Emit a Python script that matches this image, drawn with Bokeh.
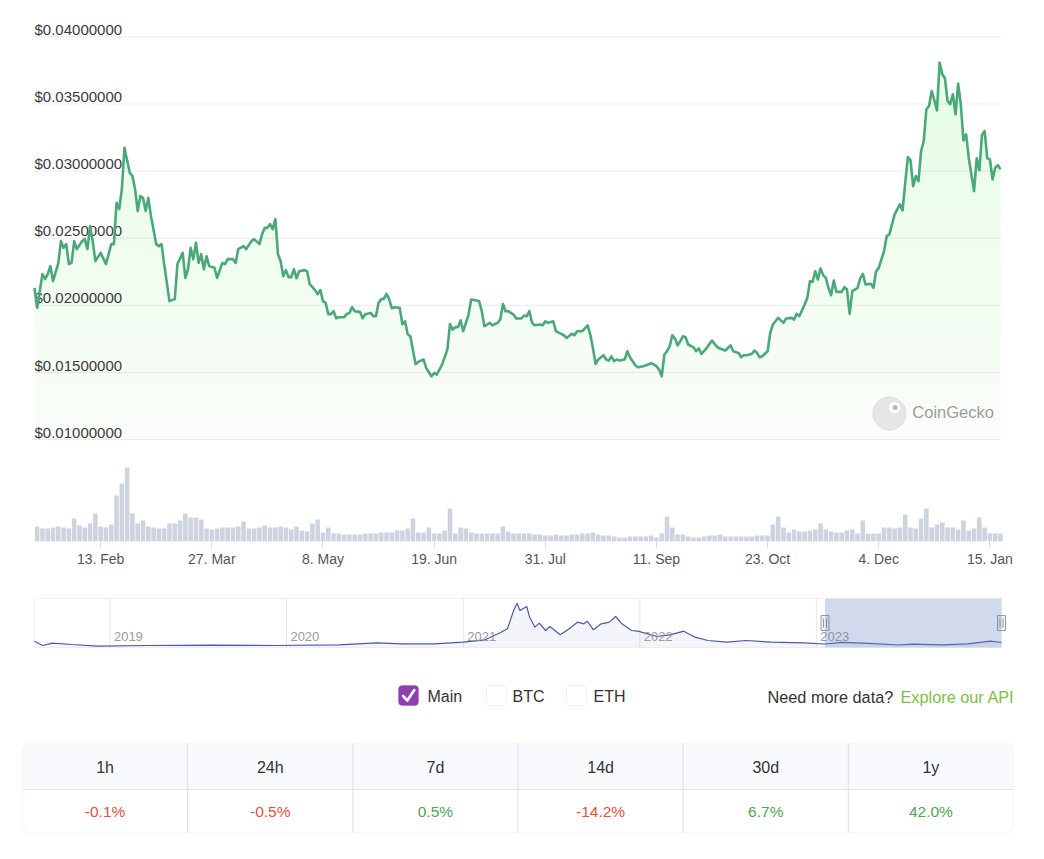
import numpy as np
import pandas as pd
from bokeh.plotting import figure
from bokeh.layouts import column
from bokeh.models import Range1d, BoxAnnotation, FixedTicker
from bokeh.core.properties import value
from bokeh.embed import file_html
from bokeh.resources import INLINE

# ---------------- data ----------------
period_start = "2023-01-19"
period_end = "2024-01-19"

price_day = [0, 1, 3, 4, 5, 6, 7, 9, 10, 11, 12, 13, 14, 15, 16, 18, 19, 20, 21, 22, 23, 25, 27, 29, 30,
             31, 32, 33, 34, 36, 37, 38, 39, 40, 41, 42, 43, 44, 46, 47, 48, 49, 51, 53, 54, 56, 57, 58, 59,
             60, 61, 62, 63, 64, 65, 66, 68, 69, 71, 72, 73, 75, 76, 77, 79, 80, 82, 83, 85, 86, 87, 88, 89,
             90, 91, 92, 93, 94, 95, 96, 97, 98, 99, 100, 102, 103, 104, 106, 107, 108, 109, 110, 111, 112,
             113, 114, 115, 117, 118, 119, 120, 121, 123, 124, 125, 127, 128, 129, 130, 131, 132, 133, 134,
             135, 136, 138, 139, 140, 141, 142, 144, 145, 147, 148, 150, 151, 152, 154, 156, 157, 158, 159,
             160, 161, 162, 164, 165, 167, 168, 169, 170, 172, 173, 175, 176, 177, 178, 179, 181, 182, 184,
             185, 186, 187, 188, 189, 191, 192, 193, 194, 196, 197, 199, 200, 201, 203, 204, 205, 207, 209,
             210, 211, 212, 213, 215, 216, 217, 218, 219, 220, 221, 223, 224, 225, 227, 228, 230, 232, 233,
             235, 236, 237, 238, 239, 240, 241, 242, 243, 244, 245, 246, 247, 249, 250, 251, 252, 254, 255,
             256, 258, 259, 261, 262, 263, 264, 266, 267, 268, 269, 271, 272, 273, 274, 275, 277, 278, 279,
             281, 283, 284, 286, 287, 288, 289, 291, 292, 293, 294, 295, 296, 297, 298, 299, 300, 301, 302,
             303, 305, 306, 307, 308, 309, 311, 312, 313, 314, 316, 317, 318, 319, 321, 322, 323, 325, 326,
             327, 328, 329, 330, 331, 332, 333, 334, 335, 336, 337, 338, 339, 340, 341, 342, 343, 344, 345,
             346, 347, 348, 349, 350, 351, 352, 353, 355, 356, 357, 358, 359, 360, 361, 362, 363, 364, 365]

price_usd = [0.02130, 0.01981, 0.02232, 0.02195, 0.02232, 0.02292, 0.02180, 0.02314, 0.02478, 0.02428,
             0.02456, 0.02307, 0.02316, 0.02478, 0.02419, 0.02478, 0.02493, 0.02419, 0.02590, 0.02478,
             0.02329, 0.02391, 0.02307, 0.02456, 0.02456, 0.02764, 0.02717, 0.02866, 0.03174, 0.02988,
             0.02963, 0.02866, 0.02702, 0.02814, 0.02801, 0.02702, 0.02801, 0.02665, 0.02456, 0.02441,
             0.02456, 0.02307, 0.02031, 0.02046, 0.02307, 0.02391, 0.02204, 0.02269, 0.02428, 0.02344,
             0.02466, 0.02316, 0.02381, 0.02269, 0.02366, 0.02292, 0.02279, 0.02204, 0.02316, 0.02307,
             0.02344, 0.02344, 0.02316, 0.02419, 0.02441, 0.02419, 0.02478, 0.02493, 0.02456, 0.02530,
             0.02577, 0.02577, 0.02605, 0.02568, 0.02642, 0.02381, 0.02329, 0.02217, 0.02262, 0.02210,
             0.02210, 0.02269, 0.02202, 0.02254, 0.02262, 0.02254, 0.02157, 0.02113, 0.02083, 0.02113,
             0.02031, 0.02018, 0.01934, 0.01934, 0.01956, 0.01904, 0.01911, 0.01911, 0.01936, 0.01943,
             0.01986, 0.01956, 0.01951, 0.01904, 0.01934, 0.01943, 0.01919, 0.01919, 0.02018, 0.02046,
             0.02048, 0.02085, 0.02046, 0.01978, 0.01986, 0.01981, 0.01859, 0.01881, 0.01784, 0.01769,
             0.01561, 0.01578, 0.01596, 0.01533, 0.01471, 0.01496, 0.01484, 0.01558, 0.01670, 0.01861,
             0.01819, 0.01837, 0.01837, 0.01887, 0.01807, 0.01931, 0.02043, 0.02036, 0.02031, 0.01956,
             0.01844, 0.01869, 0.01851, 0.01869, 0.01894, 0.02010, 0.01956, 0.01956, 0.01931, 0.01902,
             0.01902, 0.01924, 0.01919, 0.01956, 0.01869, 0.01851, 0.01857, 0.01851, 0.01881, 0.01869,
             0.01881, 0.01807, 0.01787, 0.01777, 0.01757, 0.01787, 0.01777, 0.01807, 0.01807, 0.01851,
             0.01782, 0.01682, 0.01563, 0.01596, 0.01628, 0.01596, 0.01588, 0.01620, 0.01583, 0.01596,
             0.01588, 0.01596, 0.01658, 0.01613, 0.01553, 0.01538, 0.01546, 0.01558, 0.01570, 0.01546,
             0.01521, 0.01471, 0.01633, 0.01658, 0.01695, 0.01777, 0.01752, 0.01702, 0.01732, 0.01769,
             0.01762, 0.01708, 0.01687, 0.01658, 0.01678, 0.01637, 0.01682, 0.01712, 0.01737, 0.01687,
             0.01678, 0.01663, 0.01682, 0.01702, 0.01658, 0.01645, 0.01613, 0.01628, 0.01628, 0.01637,
             0.01663, 0.01645, 0.01613, 0.01620, 0.01658, 0.01794, 0.01857, 0.01906, 0.01869, 0.01902,
             0.01906, 0.01894, 0.01936, 0.01919, 0.02006, 0.02055, 0.02180, 0.02175, 0.02254, 0.02192,
             0.02275, 0.02225, 0.02204, 0.02130, 0.02075, 0.02185, 0.02100, 0.02100, 0.02135, 0.02118,
             0.01936, 0.02105, 0.02130, 0.02200, 0.02234, 0.02155, 0.02160, 0.02130, 0.02254, 0.02279,
             0.02404, 0.02515, 0.02528, 0.02677, 0.02715, 0.02752, 0.02707, 0.02913, 0.03105, 0.03080,
             0.02888, 0.02963, 0.02926, 0.03150, 0.03224, 0.03461, 0.03485, 0.03597, 0.03528, 0.03453,
             0.03808, 0.03722, 0.03692, 0.03523, 0.03498, 0.03573, 0.03423, 0.03652, 0.03498, 0.03229,
             0.03274, 0.03100, 0.02851, 0.03095, 0.03006, 0.03269, 0.03299, 0.03095, 0.03088, 0.02938,
             0.03025, 0.03045, 0.03013]

# trading volume (million USD), one bar per 2 days from period_start
volume_days_per_bar = 2
volume_musd = [1.5, 1.3, 1.3, 1.4, 1.5, 1.4, 1.3, 2.3, 1.6, 1.4, 1.8, 2.8, 1.5, 1.4, 1.7, 4.6, 5.8, 7.4,
               2.8, 1.8, 2.1, 1.5, 1.4, 1.3, 1.3, 1.8, 1.8, 2.1, 2.8, 2.4, 2.4, 2.2, 1.3, 1.2, 1.3, 1.4,
               1.4, 1.4, 1.5, 2.0, 1.3, 1.3, 1.4, 1.6, 1.4, 1.4, 1.5, 1.4, 1.2, 1.5, 1.1, 1.0, 1.8, 2.2,
               0.9, 1.4, 0.8, 0.8, 0.7, 0.7, 0.7, 0.7, 0.8, 0.8, 0.8, 0.9, 0.9, 0.9, 1.1, 1.1, 1.3, 2.3,
               0.9, 0.9, 1.4, 0.8, 0.8, 1.1, 3.3, 0.8, 1.4, 1.3, 0.9, 0.8, 0.8, 0.8, 0.8, 0.8, 1.5, 1.0,
               0.8, 0.8, 0.8, 0.8, 0.7, 0.7, 0.6, 0.6, 0.7, 0.6, 0.6, 0.7, 0.7, 0.8, 0.8, 0.9, 0.7, 0.6,
               0.6, 0.5, 0.4, 0.4, 0.5, 0.5, 0.5, 0.5, 0.6, 0.4, 0.8, 2.5, 1.4, 0.7, 0.7, 0.5, 0.4, 0.4,
               0.5, 0.6, 0.6, 0.7, 0.5, 0.5, 0.5, 0.5, 0.5, 0.5, 0.6, 0.6, 0.6, 1.7, 2.5, 1.4, 0.9, 1.2,
               1.0, 1.0, 1.1, 1.2, 1.8, 1.2, 1.0, 0.9, 0.9, 1.1, 1.2, 0.8, 2.1, 0.8, 0.8, 0.8, 1.4, 1.4,
               1.3, 1.4, 2.7, 1.4, 1.3, 2.3, 3.3, 1.4, 1.7, 1.9, 1.4, 1.4, 1.2, 2.1, 1.1, 1.3, 2.4, 1.4,
               0.8, 0.8, 0.8]

y_ticks = [0.010, 0.015, 0.020, 0.025, 0.030, 0.035, 0.040]
y_tick_labels = ["$0.01000000", "$0.01500000", "$0.02000000", "$0.02500000",
                 "$0.03000000", "$0.03500000", "$0.04000000"]

x_tick_dates = ["2023-02-13", "2023-03-27", "2023-05-08", "2023-06-19", "2023-07-31",
                "2023-09-11", "2023-10-23", "2023-12-04", "2024-01-15"]
x_tick_labels = ["13. Feb", "27. Mar", "8. May", "19. Jun", "31. Jul",
                 "11. Sep", "23. Oct", "4. Dec", "15. Jan"]

# navigator (full history)
nav_start = "2018-07-29"
nav_end = "2024-01-19"
nav_dates = ["2018-07-29", "2018-08-15", "2018-09-04", "2018-10-14", "2018-12-06", "2019-03-20",
             "2019-07-29", "2019-12-08", "2020-04-18", "2020-07-06", "2020-08-28", "2020-11-02",
             "2020-12-31", "2021-02-15", "2021-03-20", "2021-04-02", "2021-04-15", "2021-04-22",
             "2021-04-28", "2021-05-12", "2021-05-18", "2021-05-29", "2021-06-07", "2021-06-20",
             "2021-06-29", "2021-07-20", "2021-08-05", "2021-08-25", "2021-09-07", "2021-09-14",
             "2021-09-27", "2021-10-13", "2021-10-30", "2021-11-12", "2021-11-25", "2021-12-15",
             "2021-12-28", "2022-01-17", "2022-02-05", "2022-03-04", "2022-04-02", "2022-04-25",
             "2022-05-22", "2022-06-30", "2022-08-09", "2022-09-30", "2022-12-05", "2023-01-19",
             "2023-02-22", "2023-04-20", "2023-06-20", "2023-07-18", "2023-09-20", "2023-11-10",
             "2023-12-27", "2024-01-19"]
nav_price = [0.038, 0.012, 0.026, 0.018, 0.008, 0.012, 0.014, 0.012, 0.016, 0.028, 0.022, 0.022,
             0.032, 0.046, 0.092, 0.112, 0.222, 0.266, 0.222, 0.246, 0.182, 0.122, 0.146, 0.102,
             0.126, 0.076, 0.106, 0.152, 0.142, 0.158, 0.106, 0.142, 0.152, 0.186, 0.142, 0.102,
             0.098, 0.082, 0.066, 0.076, 0.098, 0.062, 0.042, 0.032, 0.042, 0.032, 0.028, 0.021,
             0.031, 0.025, 0.015, 0.020, 0.016, 0.022, 0.038, 0.030]
nav_years = ["2019", "2020", "2021", "2022", "2023"]

series_options = ["Main", "BTC", "ETH"]
series_checked = [True, False, False]

period_labels = ["1h", "24h", "7d", "14d", "30d", "1y"]
period_change_pct = [-0.1, -0.5, 0.5, -14.2, 6.7, 42.0]

# ---------------- style / layout ----------------
FONT = "Liberation Sans"
W = 1020
PL, PR = 34, 1000          # plot area, page px
DAY_MS = 86400000.0
LINE_GREEN = "#4aa87a"
FILL_GREEN = "#6cc04a"
RED = "#e15241"
GREEN_TXT = "#4fa553"


def ms(d):
    return pd.Timestamp(d).value / 1e6


def base_fig(**kw):
    return figure(output_backend="svg", toolbar_location=None, tools="",
                  background_fill_color="white", border_fill_color="white",
                  outline_line_color=None, min_border_left=0, min_border_right=0, **kw)


def padded_range(a, b, left_px, right_px, span_px):
    per_px = (b - a) / span_px
    return Range1d(a - left_px * per_px, b + right_px * per_px)


# ---------------- main price chart ----------------
t0, t1 = ms(period_start), ms(period_end)
price_x = [t0 + d * DAY_MS for d in price_day]
pr = np.array(price_usd)
px_price = 0.005 / 67.1    # price per pixel

xr = padded_range(t0, t1, PL, W - PR, PR - PL)
p = base_fig(width=W, height=445, x_range=xr,
             y_range=Range1d(y_ticks[0] - 6 * px_price, y_ticks[0] + 423 * px_price),
             x_axis_type="datetime", min_border_top=16, min_border_bottom=0)
p.axis.visible = False
p.grid.visible = False
p.segment(x0=[t0] * len(y_ticks), x1=[t1] * len(y_ticks), y0=y_ticks, y1=y_ticks,
          line_color="#ececec", line_width=1)

# vertical gradient fill (stacked translucent layers)
p.varea(x=price_x, y1=y_ticks[0], y2=pr, fill_color=FILL_GREEN, fill_alpha=0.035)
for lv in np.linspace(y_ticks[0], y_ticks[-1], 24)[1:]:
    p.varea(x=price_x, y1=np.minimum(lv, pr), y2=pr, fill_color=FILL_GREEN, fill_alpha=0.0075)

p.text(x=[t0] * len(y_ticks), y=[v + 7.4 * px_price for v in y_ticks], text=y_tick_labels,
       text_font=value(FONT), text_font_size="15px", text_color="#3a3a3a",
       text_align="left", text_baseline="middle")

p.line(x=price_x, y=pr, line_color=LINE_GREEN, line_width=2.6, line_join="round")

# CoinGecko watermark
wm_x = t0 + 323 * DAY_MS
wm_y = y_ticks[0] + 26 * px_price
p.scatter(x=[wm_x], y=[wm_y], size=33, fill_color="#e6e6e6", line_color="#dcdcdc")
p.scatter(x=[wm_x + 2.0 * DAY_MS], y=[wm_y + 6 * px_price], size=11, fill_color="white", line_color=None)
p.scatter(x=[wm_x + 2.2 * DAY_MS], y=[wm_y + 6 * px_price], size=5, fill_color="#b5b5b5", line_color=None)
p.text(x=[wm_x], y=[wm_y + 2 * px_price], text=["CoinGecko"], x_offset=23, text_font=value(FONT),
       text_font_size="16.5px", text_color="#9c9c9c", text_baseline="middle", text_align="left")

# ---------------- volume ----------------
vol_x = [t0 + (i * volume_days_per_bar + volume_days_per_bar / 2) * DAY_MS for i in range(len(volume_musd))]
v = base_fig(width=W, height=135, x_range=xr, y_range=Range1d(0, 8.1), x_axis_type="datetime",
             min_border_top=15, min_border_bottom=39)
v.yaxis.visible = False
v.grid.visible = False
v.vbar(x=vol_x, top=volume_musd, width=volume_days_per_bar * DAY_MS * 0.86,
       fill_color="#cdd3df", line_color=None)
tick_vals = [ms(d) for d in x_tick_dates]
ax = v.xaxis[0]
ax.ticker = FixedTicker(ticks=tick_vals)
ax.major_label_overrides = {tv: lab for tv, lab in zip(tick_vals, x_tick_labels)}
ax.axis_line_color = None
ax.major_tick_line_color = "#ccd6eb"
ax.major_tick_in = 0
ax.major_tick_out = 6
ax.minor_tick_line_color = None
ax.major_label_text_font = FONT
ax.major_label_text_font_size = "14px"
ax.major_label_text_color = "#555555"
ax.major_label_standoff = 3

# ---------------- navigator ----------------
n0, n1 = ms(nav_start), ms(nav_end)
NAV_R = 1001
nav_px = 0.006    # value per pixel in navigator
n = base_fig(width=W, height=75, x_range=padded_range(n0, n1, PL, W - NAV_R, NAV_R - PL),
             y_range=Range1d(-1 * nav_px, 50 * nav_px), x_axis_type="datetime",
             min_border_top=17, min_border_bottom=7)
n.axis.visible = False
n.grid.visible = False
year_ms = [ms(f"{y}-01-01") for y in nav_years]
n.segment(x0=year_ms, x1=year_ms, y0=[0] * len(year_ms), y1=[49 * nav_px] * len(year_ms),
          line_color="#e6e6e6", line_width=1)
nav_x = [ms(d) for d in nav_dates]
n.varea(x=nav_x, y1=0, y2=nav_price, fill_color="#6b7cc4", fill_alpha=0.08)
n.line(x=nav_x, y=nav_price, line_color="#4b5aa6", line_width=1.2)
n.text(x=year_ms, y=[11 * nav_px] * len(year_ms), text=nav_years, x_offset=4,
       text_font=value(FONT), text_font_size="13px", text_color="#9a9a9a",
       text_baseline="middle", text_align="left")
n.add_layout(BoxAnnotation(left=t0, right=t1, bottom=0, top=49 * nav_px, fill_color="#6685c2",
                           fill_alpha=0.3, line_color=None))
n.add_layout(BoxAnnotation(left=n0, right=n1, bottom=0, top=49 * nav_px, fill_alpha=0,
                           line_color="#cfcfcf", line_width=1))
n.rect(x=[t0, t1], y=[24.5 * nav_px] * 2, width=8, height=15, width_units="screen",
       height_units="screen", fill_color="#f2f2f2", line_color="#999999", line_width=1)
hx = 1.5 * (n1 - n0) / (NAV_R - PL)
n.segment(x0=[t0 - hx, t0 + hx, t1 - hx, t1 + hx], x1=[t0 - hx, t0 + hx, t1 - hx, t1 + hx],
          y0=[20 * nav_px] * 4, y1=[29 * nav_px] * 4, line_color="#999999", line_width=1)

# ---------------- controls + table ----------------
H = 200
b = base_fig(width=W, height=H, x_range=Range1d(0, W), y_range=Range1d(0, H),
             min_border_top=0, min_border_bottom=0)
b.axis.visible = False
b.grid.visible = False


def Y(fy):
    return H - fy


box_left = [398, 486, 566]
label_left = [427, 512, 593]
for bl, chk in zip(box_left, series_checked):
    b.add_layout(BoxAnnotation(left=bl, right=bl + 20, top=Y(30), bottom=Y(50), border_radius=4,
                               fill_color="#8e3fb0" if chk else "white", fill_alpha=1.0,
                               line_color="#8e3fb0" if chk else "#d0d0d0", line_width=1,
                               level="underlay"))
    if chk:
        b.line(x=[bl + 4.5, bl + 8.8, bl + 15.8], y=[Y(40.5), Y(45), Y(34.5)], line_color="white",
               line_width=2.6, line_cap="round", line_join="round")
b.text(x=label_left, y=[Y(41)] * 3, text=series_options, text_font=value(FONT),
       text_font_size="16px", text_color="#333333", text_baseline="middle", text_align="left")
b.text(x=[767], y=[Y(41)], text=["Need more data?"], text_font=value(FONT),
       text_font_size="16.3px", text_color="#333333", text_baseline="middle", text_align="left")
b.text(x=[900], y=[Y(41)], text=["Explore our API"], text_font=value(FONT),
       text_font_size="16.3px", text_color="#7cc046", text_baseline="middle", text_align="left")

tl, tr, tt, tm, tb = 22, 1013, 88, 134, 177
b.add_layout(BoxAnnotation(left=tl, right=tr, top=Y(tt), bottom=Y(tb), border_radius=7,
                           fill_color="white", line_color="#e0e3e8", line_width=1.2, level="underlay"))
b.add_layout(BoxAnnotation(left=tl + 0.6, right=tr - 0.6, top=Y(tt + 0.6), bottom=Y(tm),
                           border_radius=(7, 7, 0, 0), fill_color="#eef2fa", line_color=None,
                           level="underlay"))
ncol = len(period_labels)
cw = (tr - tl) / ncol
b.segment(x0=[tl], x1=[tr], y0=[Y(tm)], y1=[Y(tm)], line_color="#e0e3e8", line_width=1.2)
sep_x = [tl + k * cw for k in range(1, ncol)]
b.segment(x0=sep_x, x1=sep_x, y0=[Y(tt)] * len(sep_x), y1=[Y(tb)] * len(sep_x),
          line_color="#e0e3e8", line_width=1.2)
cx = [tl + (k + 0.5) * cw for k in range(ncol)]
b.text(x=cx, y=[Y(112)] * ncol, text=period_labels, text_font=value(FONT), text_font_size="16px",
       text_color="#333333", text_baseline="middle", text_align="center")
val_txt = [f"{c:.1f}%" for c in period_change_pct]
val_col = [RED if c < 0 else GREEN_TXT for c in period_change_pct]
b.text(x=cx, y=[Y(156)] * ncol, text=val_txt, text_color=val_col, text_font=value(FONT),
       text_font_size="15.5px", text_baseline="middle", text_align="center")

layout = column(p, v, n, b, spacing=0)
open("out.html", "w").write(file_html(layout, INLINE))
